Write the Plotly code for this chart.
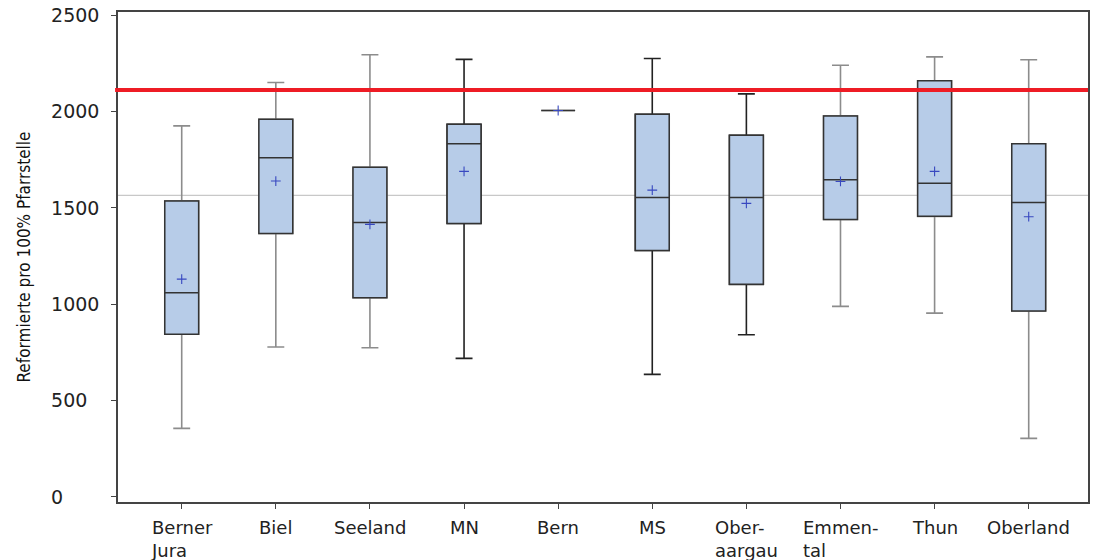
import plotly.graph_objects as go

categories = ["Berner Jura", "Biel", "Seeland", "MN", "Bern", "MS",
              "Oberaargau", "Emmental", "Thun", "Oberland"]
tick_labels = ["Berner<br>Jura", "Biel", "Seeland", "MN", "Bern", "MS",
               "Ober-<br>aargau", "Emmen-<br>tal", "Thun", "Oberland"]
lower = [356, 778, 774, 719, 2005, 636, 842, 989, 954, 304]
q1 = [844, 1367, 1034, 1419, 2005, 1279, 1103, 1440, 1456, 965]
median = [1059, 1760, 1424, 1832, 2005, 1554, 1554, 1646, 1627, 1528]
q3 = [1536, 1959, 1710, 1934, 2005, 1985, 1876, 1977, 2159, 1832]
upper = [1925, 2150, 2294, 2270, 2005, 2275, 2091, 2240, 2283, 2268]
mean = [1130, 1639, 1414, 1689, 2005, 1592, 1523, 1637, 1689, 1454]
dark_whisker = ["MN", "MS", "Oberaargau"]
reference_line = 2111
overall_mean = 1565
y_ticks = [0, 500, 1000, 1500, 2000, 2500]
y_tick_labels = ["0", "500", "1000", "1500", "2000", "2500"]

# left-align y tick labels by padding with figure spaces
maxlen = max(len(s) for s in y_tick_labels)
y_tick_text = [s + "\u2007" * (maxlen - len(s)) for s in y_tick_labels]

fig = go.Figure()

# whisker traces (grey and dark groups)
for group, color in [(False, "#8c8c8c"), (True, "#222222")]:
    idx = [i for i, c in enumerate(categories) if (c in dark_whisker) == group]
    fig.add_trace(go.Box(
        x=[categories[i] for i in idx],
        q1=[q1[i] for i in idx], median=[median[i] for i in idx],
        q3=[q3[i] for i in idx], lowerfence=[lower[i] for i in idx],
        upperfence=[upper[i] for i in idx],
        fillcolor="rgba(0,0,0,0)", line=dict(color=color, width=1.6),
        whiskerwidth=0.5, width=0.36, boxpoints=False, showlegend=False,
        hoverinfo="skip"))

# boxes on top
fig.add_trace(go.Box(
    x=categories, q1=q1, median=median, q3=q3,
    lowerfence=q1, upperfence=q3,
    fillcolor="#b7cce8", line=dict(color="#333333", width=1.5),
    whiskerwidth=0.5, width=0.36, boxpoints=False, showlegend=False))

# means
fig.add_trace(go.Scatter(
    x=categories, y=mean, mode="markers",
    marker=dict(symbol="cross-thin", size=7,
                line=dict(color="#3848c0", width=1.1), color="#3848c0"),
    showlegend=False))

fig.add_shape(type="line", xref="paper", x0=0, x1=1, yref="y",
              y0=overall_mean, y1=overall_mean,
              line=dict(color="#c8c8c8", width=1.2), layer="below")
fig.add_shape(type="line", xref="paper", x0=-0.003, x1=1, yref="y",
              y0=reference_line, y1=reference_line,
              line=dict(color="#ee1c25", width=4), layer="above")

for cat, lab in zip(categories, tick_labels):
    fig.add_annotation(x=cat, xref="x", y=0, yref="paper", yanchor="top",
                       xanchor="center", yshift=-13, text=lab, align="left",
                       showarrow=False,
                       font=dict(family="DejaVu Sans", size=18, color="#222"))

fig.update_layout(
    width=1104, height=560,
    margin=dict(l=118, r=16, t=12, b=58),
    paper_bgcolor="white", plot_bgcolor="white",
    boxmode="overlay",
    xaxis=dict(type="category", categoryorder="array", categoryarray=categories,
               range=[-0.677, 9.63], showticklabels=False, automargin=False,
               ticks="outside", ticklen=5, tickcolor="#444",
               showline=True, linecolor="#444", linewidth=1.5, mirror=True,
               showgrid=False, zeroline=False),
    yaxis=dict(range=[-26, 2516], tickvals=y_ticks, ticktext=y_tick_text,
               automargin=False, ticklabelstandoff=8,
               ticks="outside", ticklen=5, tickcolor="#444",
               showline=True, linecolor="#444", linewidth=1.5, mirror=True,
               showgrid=False, zeroline=False,
               tickfont=dict(family="DejaVu Sans", size=19, color="#222"),
               title=dict(text="Reformierte pro 100% Pfarrstelle", standoff=16,
                          font=dict(family="DejaVu Sans Condensed, sans-serif",
                                    size=17, color="#111"))),
)

fig.write_html("out.html", config={"displayModeBar": False},
               post_script="document.body.style.margin='0';document.body.style.overflow='hidden';")
